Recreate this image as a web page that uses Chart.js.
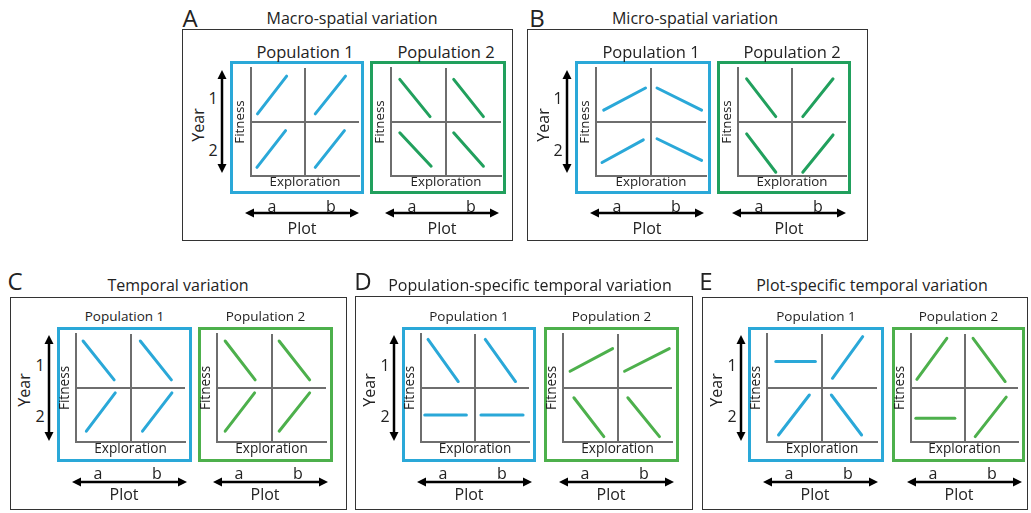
<!DOCTYPE html>
<html><head><meta charset="utf-8">
<script src="https://cdn.jsdelivr.net/npm/chart.js@4.4.1/dist/chart.umd.min.js"></script>
<style>
html,body{margin:0;padding:0;background:#fff;}
#root{position:relative;width:1031px;height:513px;overflow:hidden;font-family:"Open Sans",sans-serif;color:#222;}
.t{position:absolute;white-space:nowrap;line-height:1;transform:translate(-50%,-50%);}
.rot{transform:translate(-50%,-50%) rotate(-90deg);}
.box{position:absolute;box-sizing:border-box;}
canvas{position:absolute;}
svg{position:absolute;left:0;top:0;}
</style></head><body><div id="root"></div>
<script>
// ---------- data ----------
const panelLetters = ['A', 'B', 'C', 'D', 'E'];
const panelTitles = ['Macro-spatial variation', 'Micro-spatial variation', 'Temporal variation',
  'Population-specific temporal variation', 'Plot-specific temporal variation'];
const populationNames = ['Population 1', 'Population 2'];
const yearLabels = ['1', '2'];
const plotLabels = ['a', 'b'];
const yearName = 'Year';
const plotName = 'Plot';
const xAxisName = 'Exploration';
const yAxisName = 'Fitness';
// reaction norms per quadrant: [exploration start, fitness start, exploration end, fitness end]
// quadrant order: year1-plot a, year1-plot b, year2-plot a, year2-plot b
const macroPop1 = [[0.12, 0.15, 0.66, 0.85], [0.19, 0.15, 0.75, 0.85], [0.11, 0.16, 0.64, 0.84], [0.19, 0.16, 0.73, 0.84]];
const macroPop2 = [[0.16, 0.79, 0.71, 0.10], [0.14, 0.79, 0.68, 0.10], [0.16, 0.80, 0.73, 0.18], [0.14, 0.80, 0.68, 0.18]];
const microPop1 = [[0.14, 0.22, 0.90, 0.63], [0.11, 0.63, 0.92, 0.22], [0.11, 0.25, 0.86, 0.67], [0.11, 0.69, 0.92, 0.29]];
const microPop2 = [[0.16, 0.80, 0.70, 0.10], [0.20, 0.10, 0.76, 0.80], [0.16, 0.78, 0.70, 0.07], [0.20, 0.07, 0.76, 0.76]];
const temporalPop1 = [[0.13, 0.87, 0.70, 0.15], [0.18, 0.87, 0.75, 0.15], [0.19, 0.20, 0.72, 0.91], [0.22, 0.20, 0.76, 0.91]];
const temporalPop2 = [[0.15, 0.87, 0.70, 0.15], [0.14, 0.87, 0.70, 0.15], [0.15, 0.20, 0.69, 0.91], [0.14, 0.20, 0.70, 0.91]];
const popTemporalPop1 = [[0.13, 0.90, 0.69, 0.12], [0.19, 0.90, 0.75, 0.12], [0.07, 0.50, 0.84, 0.50], [0.11, 0.50, 0.89, 0.50]];
const popTemporalPop2 = [[0.13, 0.31, 0.91, 0.73], [0.13, 0.31, 0.95, 0.73], [0.20, 0.82, 0.75, 0.10], [0.19, 0.82, 0.77, 0.10]];
const plotTemporalPop1 = [[0.16, 0.49, 0.88, 0.49], [0.19, 0.18, 0.74, 0.95], [0.21, 0.13, 0.77, 0.87], [0.17, 0.87, 0.72, 0.13]];
const plotTemporalPop2 = [[0.11, 0.16, 0.67, 0.92], [0.16, 0.92, 0.76, 0.12], [0.09, 0.44, 0.82, 0.44], [0.20, 0.10, 0.78, 0.83]];
const panelSeries = [[macroPop1, macroPop2], [microPop1, microPop2], [temporalPop1, temporalPop2],
  [popTemporalPop1, popTemporalPop2], [plotTemporalPop1, plotTemporalPop2]];

// ---------- layout & style ----------
const FONT = '"Open Sans", sans-serif';
const AXIS = '#6e6e6e';
const TEXT = '#222222';
const BLUE = '#2aa8d8';
const GREENS = ['#21a05d', '#4db04c'];
const panelsLayout = [
  {x: 182, y: 29, w: 331, h: 212, row: 0, lx: 190, tx: 352, boxes: [{x: 230, w: 134}, {x: 370, w: 136}]},
  {x: 527, y: 29, w: 341, h: 212, row: 0, lx: 537, tx: 695, boxes: [{x: 575, w: 136}, {x: 717, w: 134}]},
  {x: 10, y: 297, w: 337, h: 213, row: 1, lx: 15, tx: 178, boxes: [{x: 57, w: 135}, {x: 198, w: 135}]},
  {x: 355, y: 296, w: 338, h: 214, row: 1, lx: 363, tx: 530, boxes: [{x: 402, w: 134}, {x: 544, w: 135}]},
  {x: 702, y: 297, w: 326, h: 213, row: 1, lx: 706, tx: 872, boxes: [{x: 748, w: 136}, {x: 892, w: 133}]}
];
const rows = [
  {titleY: 18, letterY: 18, popY: 52, popFont: 16.5, popOnChart: true, boxTop: 61, boxH: 133,
   cL: 21, cT: 7, cR: 5, cB: 115, yearDx: 40, yearA: 9, yearB: 112, yearTx: 16, yearTy: 64, numDx: 31, num1: 37, num2: 89,
   arrY: 19, arrA: 15, arrB: 129, abY: 12, aDx: 42, bDx: 101, plotDx: 72, plotY: 34, axisFont: 13.3},
  {titleY: 285, letterY: 281, popY: 317, popFont: 13.5, popOnChart: false, boxTop: 327, boxH: 135,
   cL: 19, cT: 7, cR: 7, cB: 115, yearDx: 39, yearA: 8, yearB: 114, yearTx: 14, yearTy: 63, numDx: 30, num1: 38, num2: 89,
   arrY: 20, arrA: 15, arrB: 130, abY: 11, aDx: 41, bDx: 100, plotDx: 67, plotY: 32, axisFont: 13.6}
];

const root = document.getElementById('root');
const svgNS = 'http://www.w3.org/2000/svg';
const svg = document.createElementNS(svgNS, 'svg');
svg.setAttribute('width', 1031); svg.setAttribute('height', 513);

function text(str, x, y, size, extra) {
  const d = document.createElement('div');
  d.className = 't' + (extra ? ' ' + extra : '');
  d.textContent = str;
  d.style.left = x + 'px'; d.style.top = y + 'px'; d.style.fontSize = size + 'px';
  root.appendChild(d);
  return d;
}
function rect(x, y, w, h, border) {
  const d = document.createElement('div');
  d.className = 'box';
  Object.assign(d.style, {left: x + 'px', top: y + 'px', width: w + 'px', height: h + 'px', border: border});
  root.appendChild(d);
}
function arrow(x1, y1, x2, y2) {
  const L = 9, Hw = 4.5;
  const dx = x2 - x1, dy = y2 - y1, len = Math.hypot(dx, dy), ux = dx / len, uy = dy / len;
  const line = document.createElementNS(svgNS, 'line');
  line.setAttribute('x1', x1 + ux * L * 0.8); line.setAttribute('y1', y1 + uy * L * 0.8);
  line.setAttribute('x2', x2 - ux * L * 0.8); line.setAttribute('y2', y2 - uy * L * 0.8);
  line.setAttribute('stroke', '#000'); line.setAttribute('stroke-width', 2.5);
  svg.appendChild(line);
  [[x1, y1, 1], [x2, y2, -1]].forEach(([px, py, s]) => {
    const bx = px + ux * L * s, by = py + uy * L * s;
    const p = document.createElementNS(svgNS, 'polygon');
    p.setAttribute('points', `${px},${py} ${bx - uy * Hw},${by + ux * Hw} ${bx + uy * Hw},${by - ux * Hw}`);
    p.setAttribute('fill', '#000');
    svg.appendChild(p);
  });
}

function quadChart(area, color, lines, fs) {
  const mL = 36, mT = 6, mR = 8, mB = 28;
  const W = area.r - area.l + mL + mR, H = area.b - area.t + mT + mB;
  const cv = document.createElement('canvas');
  cv.width = W; cv.height = H;
  Object.assign(cv.style, {left: (area.l - mL) + 'px', top: (area.t - mT) + 'px', width: W + 'px', height: H + 'px'});
  root.appendChild(cv);
  const yW = fs + 4, xH = fs;
  const datasets = lines.map((s, i) => {
    const col = i % 2, row = Math.floor(i / 2), oy = 1 - row;
    return {data: [{x: col + s[0], y: oy + s[1]}, {x: col + s[2], y: oy + s[3]}],
      borderColor: color, borderWidth: 3, pointRadius: 0, showLine: true, borderCapStyle: 'round', fill: false};
  });
  const gridColor = c => (c.tick && c.tick.value === 1) ? AXIS : 'rgba(0,0,0,0)';
  const scale = (title, pad) => ({
    type: 'linear', min: 0, max: 2,
    ticks: {display: false, stepSize: 1},
    grid: {drawTicks: false, color: gridColor, lineWidth: 2},
    border: {display: true, color: AXIS, width: 2},
    title: {display: true, text: title, color: TEXT, font: {family: FONT, size: fs, lineHeight: 1}, padding: pad}
  });
  new Chart(cv, {
    type: 'scatter',
    data: {datasets},
    options: {
      responsive: false, animation: false, devicePixelRatio: 1, events: [],
      layout: {padding: {left: mL - yW, top: mT, right: mR, bottom: mB - xH}},
      plugins: {legend: {display: false}, tooltip: {enabled: false}},
      scales: {x: scale(xAxisName, {top: 0, bottom: 0}), y: scale(yAxisName, {top: 0, bottom: 4})}
    }
  });
}

panelsLayout.forEach((P, pi) => {
  const R = rows[P.row];
  rect(P.x, P.y, P.w, P.h, '1px solid #333');
  text(panelLetters[pi], P.lx, R.letterY, 24);
  text(panelTitles[pi], P.tx, R.titleY, 16);
  // year axis
  const yx = P.x + R.yearDx;
  arrow(yx, R.boxTop + R.yearA, yx, R.boxTop + R.yearB);
  text(yearName, P.x + R.yearTx, R.boxTop + R.yearTy, 16, 'rot');
  text(yearLabels[0], P.x + R.numDx, R.boxTop + R.num1, 16);
  text(yearLabels[1], P.x + R.numDx, R.boxTop + R.num2, 16);
  P.boxes.forEach((B, bi) => {
    const color = bi === 0 ? BLUE : GREENS[P.row];
    rect(B.x, R.boxTop, B.w, R.boxH, '3px solid ' + color);
    const area = {l: B.x + R.cL, t: R.boxTop + R.cT, r: B.x + B.w - R.cR, b: R.boxTop + R.cB};
    const popX = R.popOnChart ? (area.l + area.r) / 2 : B.x + B.w / 2;
    text(populationNames[bi], popX, R.popY, R.popFont);
    quadChart(area, color, panelSeries[pi][bi], R.axisFont);
    const bottom = R.boxTop + R.boxH;
    arrow(B.x + R.arrA, bottom + R.arrY, B.x + R.arrB, bottom + R.arrY);
    text(plotLabels[0], B.x + R.aDx, bottom + R.abY, 16);
    text(plotLabels[1], B.x + R.bDx, bottom + R.abY, 16);
    text(plotName, B.x + R.plotDx, bottom + R.plotY, 16);
  });
});
root.appendChild(svg);
</script></body></html>
